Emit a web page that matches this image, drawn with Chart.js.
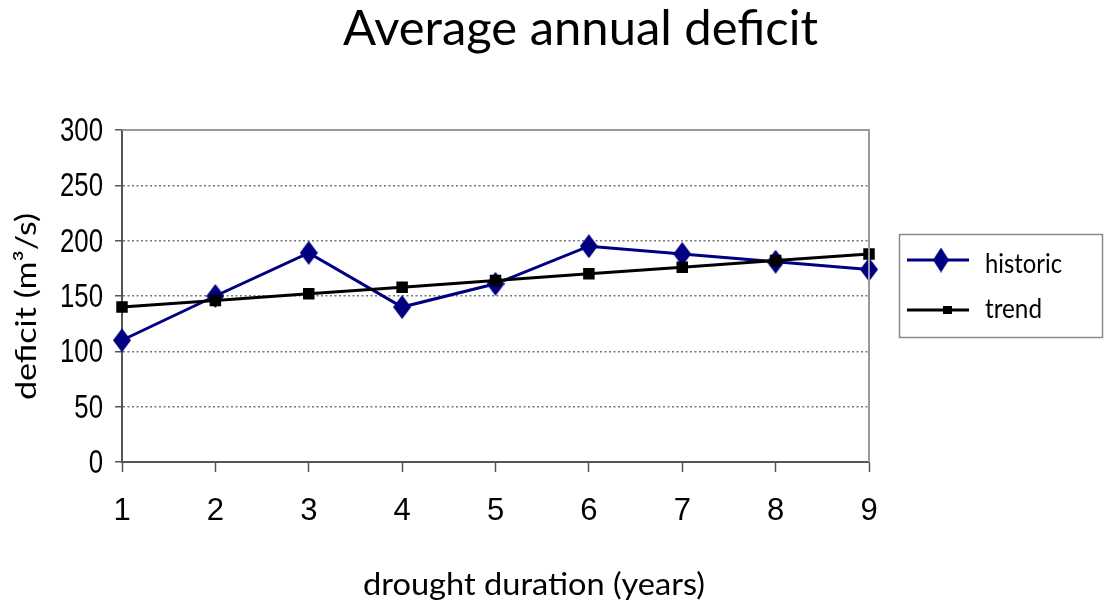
<!DOCTYPE html>
<html>
<head>
<meta charset="utf-8">
<script src="https://cdn.jsdelivr.net/npm/chart.js@4/dist/chart.umd.min.js"></script>
<style>
  html, body { margin: 0; padding: 0; background: #ffffff; }
  #wrap { width: 1104px; height: 603px; }
</style>
</head>
<body>
<div id="wrap"><canvas id="chart" width="1104" height="603"></canvas></div>
<script>
// Drought duration (years) on the x axis
const durations = ['1', '2', '3', '4', '5', '6', '7', '8', '9'];
// Average annual deficit, m³/s
const historic = [110, 150, 189, 140, 161, 195, 188, 181, 174];
// Linear trend through the historic deficits
const trend = [140, 146, 152, 158, 164, 170, 176, 182, 188];

const titleText = 'Average annual deficit';
const xTitleText = 'drought duration (years)';
const yTitleText = 'deficit (m³/s)';
const seriesNames = ['historic', 'trend'];

const NAVY = '#000080';
const SANS = '"Liberation Sans", Arial, sans-serif';
const HUMAN = 'Lato, "Open Sans", sans-serif';

// Diamond marker, slightly taller than wide
function diamondMarker(w, h, color) {
  const c = document.createElement('canvas');
  c.width = w; c.height = h;
  const g = c.getContext('2d');
  g.fillStyle = color;
  g.beginPath();
  g.moveTo(w / 2, 0);
  g.lineTo(w, h / 2);
  g.lineTo(w / 2, h);
  g.lineTo(0, h / 2);
  g.closePath();
  g.fill();
  return c;
}
const diamond = diamondMarker(18, 24, NAVY);
const legendDiamond = diamondMarker(16, 25, NAVY);

// Text squeezed horizontally to a given width
function fitText(ctx, text, x, y, font, width, align, rotate) {
  ctx.save();
  ctx.font = font;
  const w = ctx.measureText(text).width;
  ctx.translate(x, y);
  if (rotate) ctx.rotate(rotate);
  ctx.scale(width / w, 1);
  ctx.textAlign = align || 'center';
  ctx.textBaseline = 'alphabetic';
  ctx.fillStyle = '#000';
  ctx.fillText(text, 0, 0);
  ctx.restore();
}

const decorations = {
  id: 'decorations',
  afterDraw(chart) {
    const ctx = chart.ctx;
    const a = chart.chartArea;
    const xs = chart.scales.x, ys = chart.scales.y;

    // top and right frame of the plot area
    ctx.save();
    ctx.strokeStyle = '#9a9a9a';
    ctx.lineWidth = 2;
    ctx.beginPath();
    ctx.moveTo(a.left, a.top);
    ctx.lineTo(a.right, a.top);
    ctx.lineTo(a.right, a.bottom);
    ctx.stroke();
    ctx.restore();

    // y tick labels, condensed
    ctx.save();
    ctx.font = '34px ' + SANS;
    const sx = 43 / ctx.measureText('300').width;
    ctx.restore();
    ys.ticks.forEach(t => {
      const py = ys.getPixelForValue(t.value);
      const label = String(t.value);
      ctx.save();
      ctx.font = '34px ' + SANS;
      const w = ctx.measureText(label).width;
      ctx.restore();
      fitText(ctx, label, 103, py + 11, '34px ' + SANS, w * sx, 'right');
    });

    // x tick labels
    ctx.save();
    ctx.font = '31px ' + SANS;
    ctx.fillStyle = '#000';
    ctx.textAlign = 'center';
    ctx.textBaseline = 'alphabetic';
    durations.forEach((d, i) => {
      ctx.fillText(d, xs.getPixelForTick(i), 520);
    });
    ctx.restore();

    // titles
    fitText(ctx, titleText, 580.5, 45, '49px ' + HUMAN, 475, 'center');
    fitText(ctx, xTitleText, 534, 595, '31px ' + HUMAN, 342, 'center');
    fitText(ctx, yTitleText, 36, 306.5, '28px ' + HUMAN, 187, 'center', -Math.PI / 2);

    // legend
    ctx.save();
    ctx.strokeStyle = '#8a8a8a';
    ctx.lineWidth = 1.5;
    ctx.strokeRect(899.5, 234.5, 203, 103);
    ctx.lineWidth = 3;
    ctx.strokeStyle = NAVY;
    ctx.beginPath(); ctx.moveTo(907, 260); ctx.lineTo(969, 260); ctx.stroke();
    ctx.drawImage(legendDiamond, 941 - 8, 260 - 12.5);
    ctx.strokeStyle = '#000';
    ctx.beginPath(); ctx.moveTo(907, 310); ctx.lineTo(969, 310); ctx.stroke();
    ctx.fillStyle = '#000';
    ctx.fillRect(943, 306, 9, 8);
    ctx.restore();
    fitText(ctx, seriesNames[0], 985, 273, '27px ' + HUMAN, 77, 'left');
    fitText(ctx, seriesNames[1], 985, 318, '27px ' + HUMAN, 57, 'left');
  }
};

new Chart(document.getElementById('chart'), {
  type: 'line',
  data: {
    labels: durations,
    datasets: [
      {
        label: seriesNames[0],
        data: historic,
        borderColor: NAVY,
        backgroundColor: NAVY,
        borderWidth: 3,
        pointStyle: diamond,
        pointRadius: 10,
        tension: 0,
        clip: false,
        order: 1
      },
      {
        label: seriesNames[1],
        data: trend,
        borderColor: '#000',
        backgroundColor: '#000',
        borderWidth: 3,
        pointStyle: 'rect',
        pointRadius: 6,
        tension: 0,
        clip: false,
        order: 0
      }
    ]
  },
  options: {
    responsive: false,
    animation: false,
    events: [],
    layout: { padding: { top: 130, right: 235, left: 0, bottom: 0 } },
    plugins: {
      legend: { display: false },
      title: { display: false },
      tooltip: { enabled: false }
    },
    scales: {
      x: {
        type: 'category',
        offset: false,
        ticks: { display: false },
        grid: {
          drawOnChartArea: false,
          drawTicks: true,
          tickLength: 10,
          tickColor: '#555',
          tickWidth: 1.5,
          offset: false
        },
        border: { display: true, color: '#555', width: 2 },
        afterFit(s) { s.height = 141; }
      },
      y: {
        min: 0,
        max: 300,
        ticks: { display: false, stepSize: 50 },
        grid: {
          color: '#777777',
          lineWidth: 1.5,
          drawTicks: true,
          tickLength: 7,
          tickColor: '#555',
          tickWidth: 1.5,
          tickBorderDash: []
        },
        border: { display: true, color: '#555', width: 2, dash: [2, 2.5] },
        afterFit(s) { s.width = 122; }
      }
    }
  },
  plugins: [decorations]
});
</script>
</body>
</html>
